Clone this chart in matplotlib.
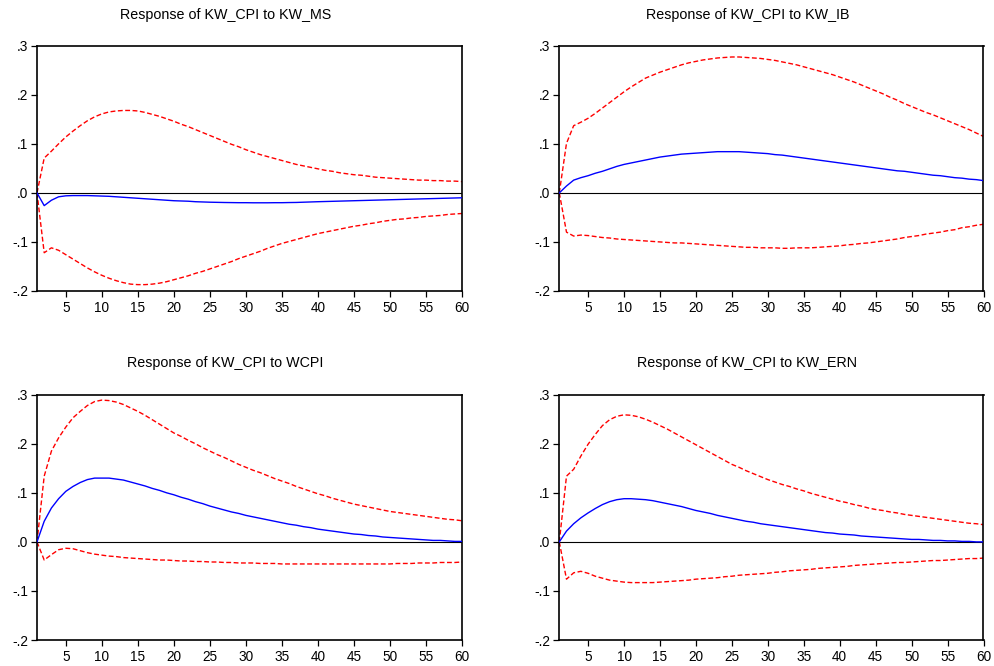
import matplotlib
matplotlib.use("Agg")
import matplotlib.pyplot as plt
import numpy as np

plt.rcParams['font.family'] = ['Liberation Sans', 'DejaVu Sans']

periods = np.arange(1, 61)

titles = [
    "Response of KW_CPI to KW_MS",
    "Response of KW_CPI to KW_IB",
    "Response of KW_CPI to WCPI",
    "Response of KW_CPI to KW_ERN",
]

# --- KW_MS shock ---
ms_resp = [0.000, -0.026, -0.015, -0.008, -0.006, -0.0055, -0.0055, -0.0055, -0.006, -0.0065,
           -0.007, -0.008, -0.009, -0.010, -0.011, -0.012, -0.013, -0.014, -0.015, -0.016,
           -0.0165, -0.017, -0.018, -0.0185, -0.019, -0.0193, -0.0196, -0.0198, -0.020, -0.020,
           -0.0202, -0.0202, -0.0202, -0.020, -0.020, -0.0197, -0.0195, -0.019, -0.0185, -0.018,
           -0.0176, -0.0172, -0.0168, -0.0164, -0.016, -0.0156, -0.0152, -0.0148, -0.0144, -0.014,
           -0.0136, -0.0132, -0.0128, -0.0124, -0.012, -0.0116, -0.0112, -0.0108, -0.0104, -0.010]
ms_upper = [0.000, 0.071, 0.085, 0.100, 0.114, 0.126, 0.137, 0.147, 0.155, 0.161,
            0.165, 0.167, 0.168, 0.168, 0.167, 0.164, 0.160, 0.156, 0.151, 0.146,
            0.140, 0.135, 0.129, 0.123, 0.117, 0.111, 0.105, 0.099, 0.094, 0.088,
            0.083, 0.078, 0.074, 0.070, 0.066, 0.062, 0.058, 0.055, 0.052, 0.049,
            0.046, 0.044, 0.041, 0.039, 0.037, 0.036, 0.034, 0.032, 0.031, 0.030,
            0.029, 0.028, 0.027, 0.026, 0.026, 0.025, 0.025, 0.024, 0.024, 0.023]
ms_lower = [0.000, -0.122, -0.112, -0.117, -0.126, -0.135, -0.144, -0.153, -0.161, -0.168,
            -0.174, -0.179, -0.183, -0.186, -0.187, -0.187, -0.186, -0.184, -0.181, -0.177,
            -0.173, -0.169, -0.164, -0.160, -0.155, -0.150, -0.145, -0.140, -0.134, -0.129,
            -0.124, -0.119, -0.113, -0.108, -0.103, -0.099, -0.095, -0.091, -0.087, -0.083,
            -0.080, -0.077, -0.074, -0.071, -0.068, -0.066, -0.063, -0.061, -0.058, -0.056,
            -0.054, -0.053, -0.051, -0.050, -0.048, -0.047, -0.046, -0.044, -0.043, -0.042]

# --- KW_IB shock ---
ib_resp = [0.000, 0.014, 0.026, 0.031, 0.035, 0.040, 0.044, 0.049, 0.054, 0.058,
           0.061, 0.064, 0.067, 0.070, 0.073, 0.075, 0.077, 0.079, 0.080, 0.081,
           0.082, 0.083, 0.084, 0.084, 0.084, 0.084, 0.083, 0.082, 0.081, 0.080,
           0.078, 0.077, 0.075, 0.073, 0.071, 0.069, 0.067, 0.065, 0.063, 0.061,
           0.059, 0.057, 0.055, 0.053, 0.051, 0.049, 0.047, 0.045, 0.044, 0.042,
           0.040, 0.038, 0.036, 0.035, 0.033, 0.031, 0.030, 0.028, 0.027, 0.025]
ib_upper = [0.000, 0.101, 0.137, 0.144, 0.152, 0.162, 0.173, 0.184, 0.195, 0.206,
            0.216, 0.225, 0.234, 0.240, 0.246, 0.251, 0.256, 0.261, 0.265, 0.268,
            0.271, 0.273, 0.275, 0.276, 0.277, 0.277, 0.276, 0.275, 0.274, 0.272,
            0.270, 0.267, 0.264, 0.261, 0.257, 0.253, 0.249, 0.245, 0.241, 0.236,
            0.231, 0.226, 0.220, 0.214, 0.208, 0.202, 0.195, 0.189, 0.182, 0.176,
            0.170, 0.164, 0.159, 0.153, 0.147, 0.141, 0.135, 0.129, 0.122, 0.115]
ib_lower = [0.000, -0.080, -0.088, -0.086, -0.087, -0.089, -0.091, -0.092, -0.094, -0.095,
            -0.096, -0.097, -0.098, -0.099, -0.100, -0.101, -0.102, -0.102, -0.103, -0.104,
            -0.105, -0.106, -0.107, -0.108, -0.109, -0.110, -0.111, -0.111, -0.112, -0.112,
            -0.112, -0.113, -0.113, -0.112, -0.112, -0.112, -0.111, -0.110, -0.109, -0.108,
            -0.106, -0.105, -0.103, -0.102, -0.100, -0.098, -0.096, -0.094, -0.091, -0.089,
            -0.087, -0.084, -0.082, -0.080, -0.077, -0.075, -0.071, -0.069, -0.066, -0.064]

# --- WCPI shock ---
wcpi_resp = [0.000, 0.042, 0.069, 0.088, 0.103, 0.113, 0.121, 0.127, 0.130, 0.130,
             0.130, 0.128, 0.126, 0.122, 0.118, 0.114, 0.109, 0.105, 0.100, 0.096,
             0.091, 0.087, 0.082, 0.078, 0.073, 0.069, 0.065, 0.061, 0.058, 0.054,
             0.051, 0.048, 0.045, 0.042, 0.039, 0.036, 0.034, 0.031, 0.029, 0.026,
             0.024, 0.022, 0.020, 0.018, 0.016, 0.015, 0.013, 0.012, 0.010, 0.009,
             0.008, 0.007, 0.006, 0.005, 0.004, 0.003, 0.003, 0.002, 0.001, 0.001]
wcpi_upper = [0.000, 0.134, 0.185, 0.212, 0.234, 0.253, 0.266, 0.278, 0.286, 0.289,
              0.288, 0.285, 0.280, 0.273, 0.266, 0.258, 0.249, 0.240, 0.231, 0.222,
              0.215, 0.207, 0.200, 0.192, 0.185, 0.178, 0.172, 0.165, 0.158, 0.152,
              0.146, 0.141, 0.135, 0.129, 0.124, 0.119, 0.113, 0.108, 0.103, 0.098,
              0.094, 0.089, 0.085, 0.081, 0.077, 0.074, 0.071, 0.068, 0.065, 0.062,
              0.060, 0.058, 0.056, 0.054, 0.052, 0.050, 0.048, 0.046, 0.045, 0.043]
wcpi_lower = [0.000, -0.037, -0.026, -0.016, -0.013, -0.014, -0.018, -0.022, -0.025, -0.027,
              -0.029, -0.030, -0.032, -0.033, -0.034, -0.035, -0.036, -0.037, -0.037, -0.038,
              -0.039, -0.039, -0.040, -0.040, -0.041, -0.041, -0.042, -0.042, -0.043, -0.043,
              -0.043, -0.044, -0.044, -0.044, -0.045, -0.045, -0.045, -0.045, -0.045, -0.045,
              -0.045, -0.045, -0.045, -0.045, -0.045, -0.045, -0.045, -0.045, -0.045, -0.045,
              -0.044, -0.044, -0.044, -0.043, -0.043, -0.043, -0.042, -0.042, -0.042, -0.041]

# --- KW_ERN shock ---
ern_resp = [0.000, 0.022, 0.037, 0.049, 0.059, 0.068, 0.076, 0.082, 0.086, 0.088,
            0.088, 0.087, 0.086, 0.084, 0.081, 0.078, 0.075, 0.072, 0.068, 0.064,
            0.061, 0.058, 0.054, 0.051, 0.048, 0.045, 0.042, 0.040, 0.037, 0.035,
            0.033, 0.031, 0.029, 0.027, 0.025, 0.023, 0.021, 0.019, 0.018, 0.016,
            0.015, 0.014, 0.012, 0.011, 0.010, 0.009, 0.008, 0.007, 0.006, 0.005,
            0.005, 0.004, 0.003, 0.003, 0.002, 0.002, 0.001, 0.001, 0.000, 0.000]
ern_upper = [0.000, 0.134, 0.148, 0.175, 0.199, 0.219, 0.237, 0.249, 0.256, 0.259,
             0.258, 0.255, 0.250, 0.244, 0.237, 0.230, 0.222, 0.214, 0.206, 0.198,
             0.190, 0.182, 0.174, 0.166, 0.158, 0.152, 0.145, 0.139, 0.133, 0.127,
             0.122, 0.117, 0.113, 0.108, 0.104, 0.099, 0.095, 0.091, 0.087, 0.083,
             0.080, 0.076, 0.073, 0.069, 0.066, 0.064, 0.061, 0.059, 0.056, 0.054,
             0.052, 0.050, 0.048, 0.046, 0.044, 0.042, 0.040, 0.038, 0.037, 0.035]
ern_lower = [0.000, -0.076, -0.063, -0.060, -0.064, -0.070, -0.074, -0.078, -0.080, -0.082,
             -0.083, -0.083, -0.083, -0.083, -0.082, -0.081, -0.080, -0.079, -0.078, -0.076,
             -0.075, -0.074, -0.073, -0.071, -0.070, -0.068, -0.067, -0.066, -0.065, -0.064,
             -0.062, -0.061, -0.059, -0.058, -0.057, -0.056, -0.054, -0.053, -0.052, -0.051,
             -0.050, -0.048, -0.047, -0.046, -0.045, -0.044, -0.043, -0.042, -0.042, -0.041,
             -0.040, -0.039, -0.038, -0.038, -0.037, -0.036, -0.035, -0.034, -0.034, -0.033]

responses = [ms_resp, ib_resp, wcpi_resp, ern_resp]
uppers = [ms_upper, ib_upper, wcpi_upper, ern_upper]
lowers = [ms_lower, ib_lower, wcpi_lower, ern_lower]

y_ticks = [-0.2, -0.1, 0.0, 0.1, 0.2, 0.3]
y_tick_labels = ["-.2", "-.1", ".0", ".1", ".2", ".3"]
x_ticks = [5, 10, 15, 20, 25, 30, 35, 40, 45, 50, 55, 60]

W, H = 995, 666
fig = plt.figure(figsize=(W / 100, H / 100), dpi=100)

# panel rectangles in pixels: left, top, right, bottom
boxes = [
    (37, 45.7, 462, 291),
    (559.3, 45.7, 983.5, 291),
    (37, 394.7, 462, 640),
    (559.3, 394.7, 983.5, 640),
]
title_y = [15, 15, 363, 363]

for i, (l, t, r, b) in enumerate(boxes):
    ax = fig.add_axes([l / W, 1 - b / H, (r - l) / W, (b - t) / H])
    ax.axhline(0, color="black", lw=0.8, zorder=1)
    ax.plot(periods, uppers[i], color="#ff0000", lw=1.0, dashes=(3.5, 1.8), zorder=2)
    ax.plot(periods, lowers[i], color="#ff0000", lw=1.0, dashes=(3.5, 1.8), zorder=2)
    ax.plot(periods, responses[i], color="#0000ff", lw=1.0, zorder=3)
    ax.set_xlim(1, 60)
    ax.set_ylim(-0.2, 0.3)
    ax.set_yticks(y_ticks)
    ax.set_yticklabels(y_tick_labels)
    ax.set_xticks(x_ticks)
    ax.tick_params(axis="both", direction="out", length=4.5, width=0.9,
                   labelsize=9.8, colors="black")
    ax.tick_params(axis="y", pad=2)
    ax.tick_params(axis="x", pad=3)
    for sp in ax.spines.values():
        sp.set_linewidth(1.2)
        sp.set_color("black")
    cx = (l + r) / 2 - 24
    fig.text(cx / W, 1 - title_y[i] / H, titles[i], ha="center", va="center",
             fontsize=10.3)

fig.savefig("out.png", dpi=100)
